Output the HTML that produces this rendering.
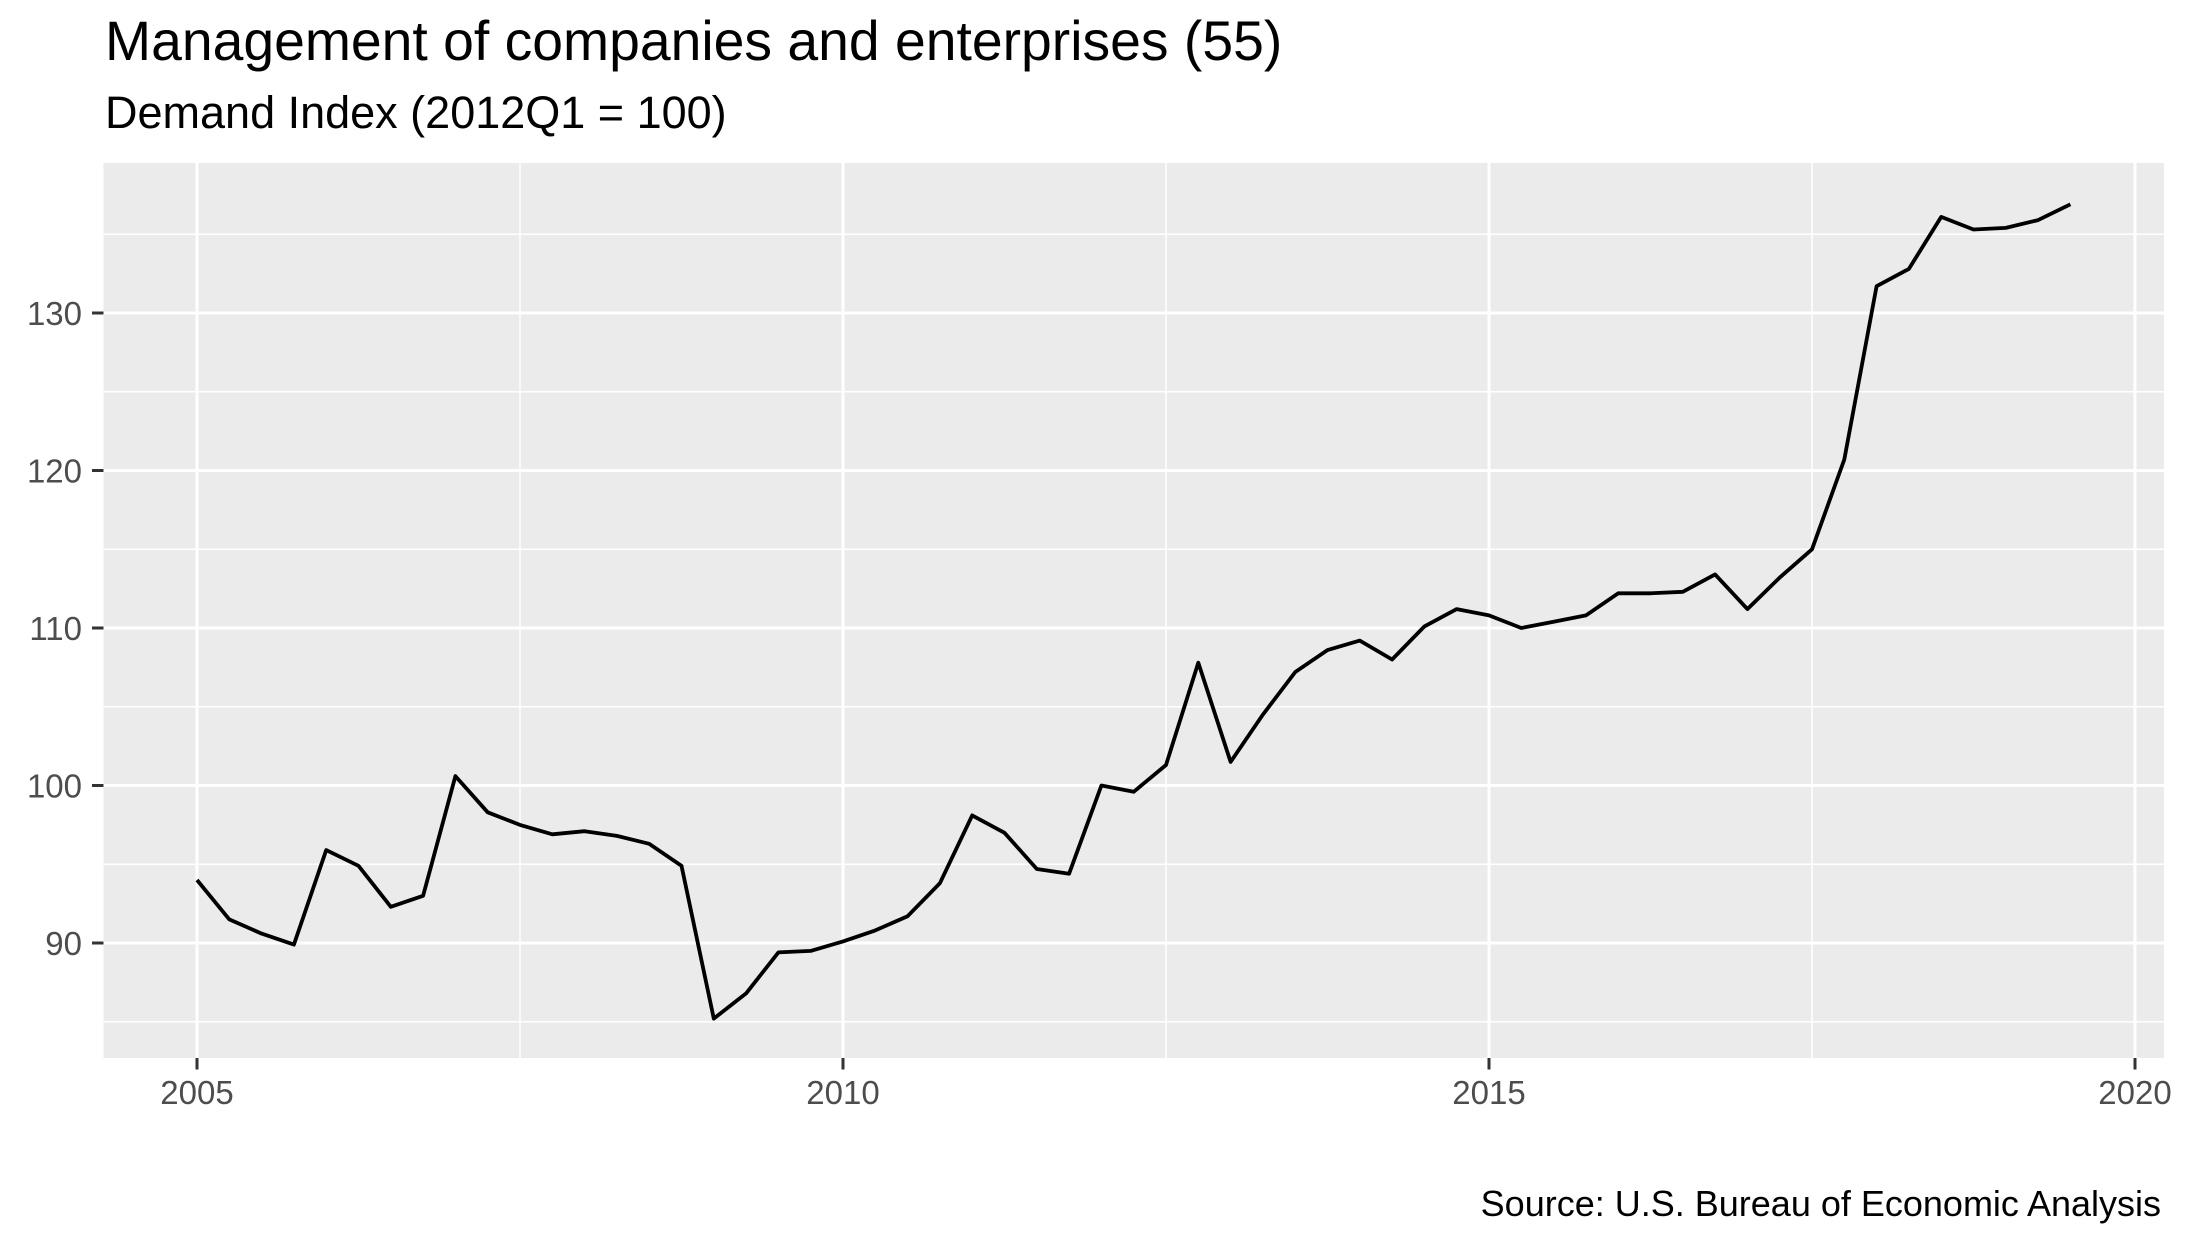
<!DOCTYPE html>
<html><head><meta charset="utf-8"><style>
html,body{margin:0;padding:0;background:#fff;}
svg{display:block;font-family:"Liberation Sans",Arial,sans-serif;}
</style></head><body>
<svg id="s" width="2187" height="1250" viewBox="0 0 2187 1250" xmlns="http://www.w3.org/2000/svg">
<rect x="0" y="0" width="2187" height="1250" fill="#fff"/>
<rect x="103.5" y="163" width="2060.5" height="895" fill="#ebebeb"/>
<g id="grid"></g>
<polyline id="line" fill="none" stroke="#000" stroke-width="3.8" stroke-linejoin="round" points=""/>
<g id="ticks" fill="#4d4d4d" font-size="33"></g>
<text x="105" y="60" font-size="55.3" fill="#000">Management of companies and enterprises (55)</text>
<text x="105" y="128" font-size="45" fill="#000">Demand Index (2012Q1 = 100)</text>
<text x="2161" y="1216" font-size="36" fill="#000" text-anchor="end">Source: U.S. Bureau of Economic Analysis</text>
</svg>
<script>
var ns="http://www.w3.org/2000/svg";
function X(t){return 197+(t-2005)*129.2;}
function Y(v){return 943-(v-90)*15.75;}
var g=document.getElementById('grid'),tk=document.getElementById('ticks');
function el(p,n,a,txt){var e=document.createElementNS(ns,n);for(var k in a)e.setAttribute(k,a[k]);if(txt)e.textContent=txt;p.appendChild(e);return e;}
[85,95,105,115,125,135].forEach(function(v){el(g,'line',{x1:103.5,x2:2164,y1:Y(v),y2:Y(v),stroke:'#fff','stroke-width':1.5});});
[2007.5,2012.5,2017.5].forEach(function(t){el(g,'line',{x1:X(t),x2:X(t),y1:163,y2:1058,stroke:'#fff','stroke-width':1.5});});
[90,100,110,120,130].forEach(function(v){el(g,'line',{x1:103.5,x2:2164,y1:Y(v),y2:Y(v),stroke:'#fff','stroke-width':3});
el(tk,'line',{x1:92,x2:103.5,y1:Y(v),y2:Y(v),stroke:'#333','stroke-width':3});
el(tk,'text',{x:82,y:Y(v)+12,'text-anchor':'end'},String(v));});
[2005,2010,2015,2020].forEach(function(t){el(g,'line',{x1:X(t),x2:X(t),y1:163,y2:1058,stroke:'#fff','stroke-width':3});
el(tk,'line',{x1:X(t),x2:X(t),y1:1058,y2:1069.5,stroke:'#333','stroke-width':3});
el(tk,'text',{x:X(t),y:1104,'text-anchor':'middle'},String(t));});
var d=[94.0,91.5,90.6,89.9,95.9,94.9,92.3,93.0,100.6,98.3,97.5,96.9,97.1,96.8,96.3,94.9,85.2,86.8,89.4,89.5,90.1,90.8,91.7,93.8,98.1,97.0,94.7,94.4,100.0,99.6,101.3,107.8,101.5,104.5,107.2,108.6,109.2,108.0,110.1,111.2,110.8,110.0,110.4,110.8,112.2,112.2,112.3,113.4,111.2,113.2,115.0,120.7,131.7,132.8,136.1,135.3,135.4,135.9,136.9];
document.getElementById('line').setAttribute('points',d.map(function(v,i){return X(2005+i*0.25).toFixed(1)+','+Y(v).toFixed(1);}).join(' '));
</script>
</body></html>
